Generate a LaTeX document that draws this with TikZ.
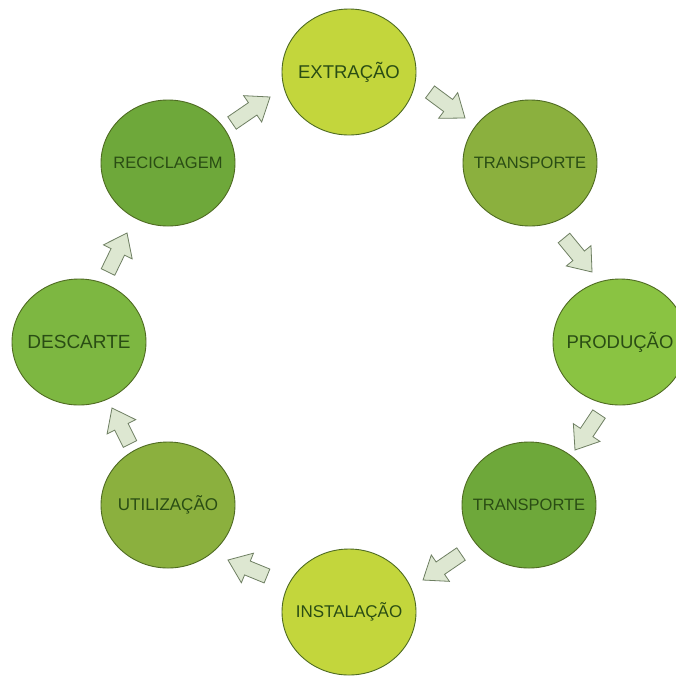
\documentclass[tikz,border=0pt]{standalone}
\usepackage{fontspec}
\setmainfont{Liberation Sans}
\usetikzlibrary{shapes.geometric,calc}

\definecolor{stageyellow}{HTML}{C3D63C}
\definecolor{stageolive}{HTML}{8BB03E}
\definecolor{stagelight}{HTML}{8AC342}
\definecolor{stagedark}{HTML}{6EA83A}
\definecolor{stagemid}{HTML}{7DB741}
\definecolor{stageedge}{HTML}{4F6B22}
\definecolor{stagetext}{HTML}{2A4D14}
\definecolor{flowfill}{HTML}{DDE7D1}
\definecolor{flowedge}{HTML}{6E7F62}

\tikzset{
  stage/.style={ellipse, draw=stageedge, line width=0.9pt,
    minimum width=134pt, minimum height=126pt, inner sep=0pt},
  stagelabel/.style={text=stagetext, font=\fontsize{#1}{#1}\selectfont, inner sep=0pt},
  flowarrow/.style={fill=flowfill, draw=flowedge, line width=0.8pt, line join=miter},
}

% hollow block arrow from a tail coordinate to a tip coordinate
\newcommand{\flowblock}[2]{%
  \path ($(#2)!21pt!(#1)$) coordinate (hb);
  \draw[flowarrow]
    ($(#1)!7.5pt!90:(#2)$) -- ($(hb)!7.5pt!90:(#2)$) -- ($(hb)!16pt!90:(#2)$)
    -- (#2) -- ($(hb)!16pt!-90:(#2)$) -- ($(hb)!7.5pt!-90:(#2)$)
    -- ($(#1)!7.5pt!-90:(#2)$) -- cycle;}

\begin{document}
\begin{tikzpicture}[x=1pt, y=-1pt]
  \clip (0,0) rectangle (676,675);
  \fill[white] (0,0) rectangle (676,675);

  % life-cycle stages
  \node[stage, fill=stageyellow] (ext) at (349,72) {};
  \node[stagelabel=18.5] (ext-t) at (ext.center) {EXTRAÇÃO};
  \node[stage, fill=stageolive] (tr1) at (530,163) {};
  \node[stagelabel=16.5] (tr1-t) at (tr1.center) {TRANSPORTE};
  \node[stage, fill=stagelight] (pro) at (620,342) {};
  \node[stagelabel=18.5] (pro-t) at (pro.center) {PRODUÇÃO};
  \node[stage, fill=stagedark] (tr2) at (529,505) {};
  \node[stagelabel=16.5] (tr2-t) at (tr2.center) {TRANSPORTE};
  \node[stage, fill=stageyellow] (ins) at (349,612) {};
  \node[stagelabel=17] (ins-t) at (ins.center) {INSTALAÇÃO};
  \node[stage, fill=stageolive] (uti) at (168,505) {};
  \node[stagelabel=17] (uti-t) at (uti.center) {UTILIZAÇÃO};
  \node[stage, fill=stagemid] (des) at (79,342) {};
  \node[stagelabel=19] (des-t) at (des.center) {DESCARTE};
  \node[stage, fill=stagedark] (rec) at (168,163) {};
  \node[stagelabel=16.5] (rec-t) at (rec.center) {RECICLAGEM};

  % arrow ends between neighbouring stages
  \coordinate (re-a) at (232,123); \coordinate (re-b) at (270,97);
  \coordinate (et-a) at (430,92);  \coordinate (et-b) at (465,118);
  \coordinate (tp-a) at (564,238); \coordinate (tp-b) at (592,272);
  \coordinate (pt-a) at (599,414); \coordinate (pt-b) at (575,450);
  \coordinate (ti-a) at (461,554); \coordinate (ti-b) at (423,580);
  \coordinate (iu-a) at (267,576); \coordinate (iu-b) at (228,560);
  \coordinate (ud-a) at (130,444); \coordinate (ud-b) at (112,408);
  \coordinate (dr-a) at (108,272); \coordinate (dr-b) at (127,233);

  \flowblock{re-a}{re-b}
  \flowblock{et-a}{et-b}
  \flowblock{tp-a}{tp-b}
  \flowblock{pt-a}{pt-b}
  \flowblock{ti-a}{ti-b}
  \flowblock{iu-a}{iu-b}
  \flowblock{ud-a}{ud-b}
  \flowblock{dr-a}{dr-b}
\end{tikzpicture}
\end{document}
